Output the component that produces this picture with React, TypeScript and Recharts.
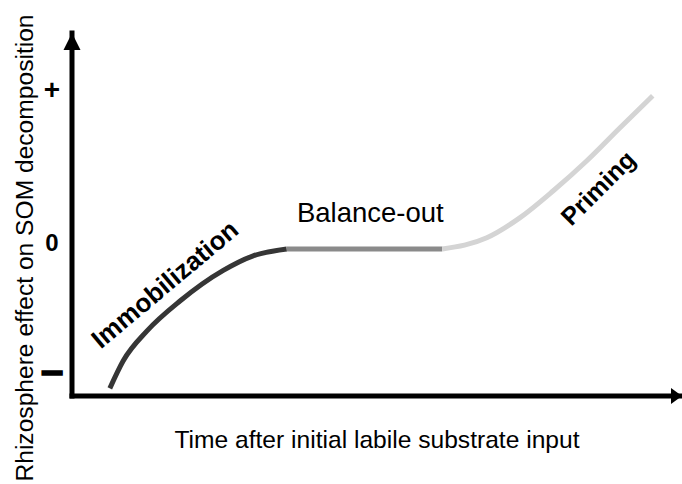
import {
  ComposedChart,
  Line,
  XAxis,
  YAxis,
  Label,
  ReferenceDot,
} from 'recharts';

// phase curves (x = time, y = rhizosphere effect)
const immobX = [6.2, 8.4, 12.3, 17.7, 24.8, 29.7, 35.2];
const immobY = [-0.95, -0.77, -0.575, -0.38, -0.18, -0.085, -0.04];
const balanceX = [35.2, 48, 60.7];
const balanceY = [-0.04, -0.04, -0.04];
const primingX = [60.7, 68.0, 73.4, 78.9, 84.4, 89.8, 95.2];
const primingY = [-0.04, 0.033, 0.163, 0.34, 0.536, 0.75, 0.96];

const yTicks = [-0.83, 0, 1];
const yTickLabels = ['–', '0', '+'];

const FONT = '"Liberation Sans", Arial, sans-serif';

const toPoints = (xs: number[], ys: number[]) => xs.map((x, i) => ({ x, y: ys[i] }));

const immobData = toPoints(immobX, immobY);
const balanceData = toPoints(balanceX, balanceY);
const primingData = toPoints(primingX, primingY);

const YTick = ({ y, payload }: any) => {
  const idx = yTicks.indexOf(payload.value);
  const txt = yTickLabels[idx];
  const isMinus = txt === '–';
  const isPlus = txt === '+';
  return (
    <text
      x={52}
      y={y}
      textAnchor="middle"
      dominantBaseline="central"
      fontFamily={FONT}
      fontWeight="bold"
      fontSize={isMinus ? 40 : isPlus ? 28 : 24}
      fill="#000"
      stroke={isMinus ? '#000' : 'none'}
      strokeWidth={isMinus ? 1.6 : 0}
    >
      {txt}
    </text>
  );
};

const XTitle = ({ viewBox }: any) => {
  const vb = viewBox || { x: 72, y: 396, width: 610 };
  return (
    <text x={vb.x + vb.width / 2} y={vb.y + 52} textAnchor="middle" fontFamily={FONT} fontSize={24.6} fill="#000">
      Time after initial labile substrate input
    </text>
  );
};

const YTitle = () => (
  <text
    x={33}
    y={248}
    transform="rotate(-90, 33, 248)"
    textAnchor="middle"
    fontFamily={FONT}
    fontSize={24.6}
    fill="#000"
  >
    Rhizosphere effect on SOM decomposition
  </text>
);

const UpArrow = ({ cx, cy }: any) => (
  <polygon points={`${cx},${cy} ${cx - 8.5},${cy + 17} ${cx + 8.5},${cy + 17}`} fill="#000" />
);

const RightArrow = ({ cx, cy }: any) => (
  <polygon points={`${cx},${cy} ${cx - 11},${cy - 8} ${cx - 11},${cy + 8}`} fill="#000" />
);

const rotatedText = (text: string, angle: number, size: number, bold: boolean) => ({ cx, cy }: any) => (
  <text
    x={cx}
    y={cy}
    transform={`rotate(${angle}, ${cx}, ${cy})`}
    textAnchor="middle"
    dominantBaseline="central"
    fontFamily={FONT}
    fontSize={size}
    fontWeight={bold ? 'bold' : 'normal'}
    fill="#000"
  >
    {text}
  </text>
);

const App = () => {
  return (
    <div style={{ position: 'absolute', left: 0, top: 0, background: '#fff' }}>
      <ComposedChart width={682} height={484} margin={{ top: 33, right: 0, bottom: 58, left: 0 }}>
        <XAxis
          type="number"
          dataKey="x"
          domain={[0, 100]}
          allowDataOverflow
          tick={false}
          tickLine={false}
          height={30}
          axisLine={{ stroke: '#000', strokeWidth: 5, strokeLinecap: 'square' }}
        >
          <Label content={XTitle} />
        </XAxis>
        <YAxis
          type="number"
          domain={[-1.0, 1.37]}
          allowDataOverflow
          width={72}
          ticks={yTicks}
          interval={0}
          tickLine={false}
          tick={<YTick />}
          axisLine={{ stroke: '#000', strokeWidth: 5, strokeLinecap: 'square' }}
        >
          <Label content={YTitle} />
        </YAxis>

        <Line
          data={immobData}
          dataKey="y"
          type="monotone"
          stroke="#363636"
          strokeWidth={5}
          dot={false}
          activeDot={false}
          isAnimationActive={false}
        />
        <Line
          data={balanceData}
          dataKey="y"
          type="linear"
          stroke="#8a8a8a"
          strokeWidth={5}
          dot={false}
          activeDot={false}
          isAnimationActive={false}
        />
        <Line
          data={primingData}
          dataKey="y"
          type="monotone"
          stroke="#d4d4d4"
          strokeWidth={5}
          dot={false}
          activeDot={false}
          isAnimationActive={false}
        />

        <ReferenceDot x={0} y={1.37} r={0} ifOverflow="visible" shape={UpArrow} />
        <ReferenceDot x={100} y={-1.0} r={0} ifOverflow="visible" shape={RightArrow} />

        <ReferenceDot x={15.2} y={-0.27} r={0} ifOverflow="visible" shape={rotatedText('Immobilization', -40, 26, true)} />
        <ReferenceDot x={48.9} y={0.2} r={0} ifOverflow="visible" shape={rotatedText('Balance-out', 0, 27.5, false)} />
        <ReferenceDot x={86.2} y={0.36} r={0} ifOverflow="visible" shape={rotatedText('Priming', -45, 25, true)} />
      </ComposedChart>
    </div>
  );
};

export default App;
